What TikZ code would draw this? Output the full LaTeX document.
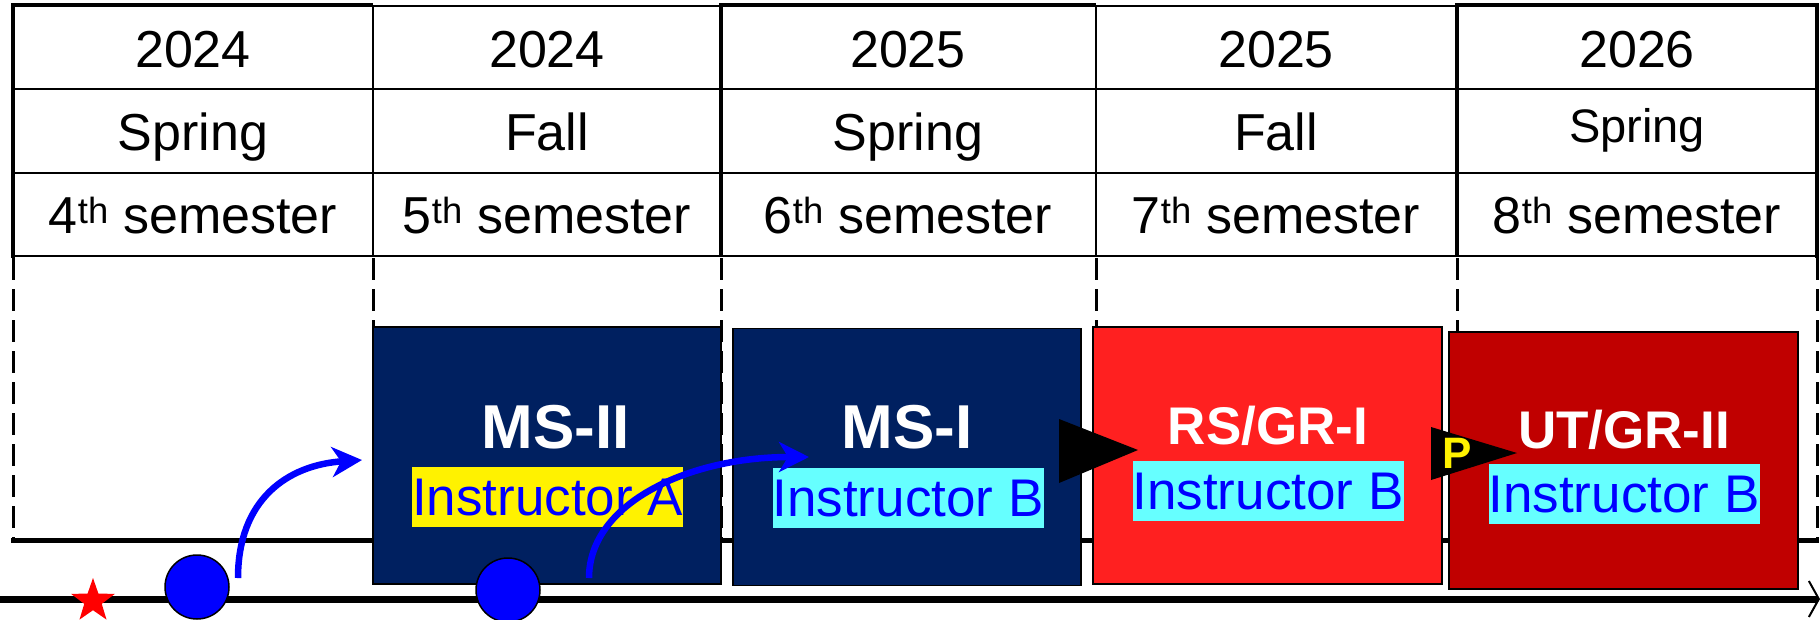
\documentclass[tikz,border=0pt]{standalone}
\usepackage{fontspec}
\setmainfont{Liberation Sans}
\usepackage{xcolor}
\usepackage{tikz}
\usetikzlibrary{arrows.meta,shapes.geometric}
\definecolor{msblue}{HTML}{002060}
\definecolor{rsred}{HTML}{FF2020}
\definecolor{utred}{HTML}{C00000}
\definecolor{hlcyan}{HTML}{66FFFF}
\begin{document}
\begin{tikzpicture}[x=1pt,y=-1pt,
    hdr/.style={anchor=base,inner sep=0pt,font=\fontsize{52}{60}\selectfont},
    course/.style={draw=black,line width=1.5pt,inner sep=0pt,minimum width=348pt,minimum height=257pt},
    ctitle/.style={anchor=base,inner sep=0pt,text=white,font=\bfseries\fontsize{62}{70}\selectfont},
    instr/.style={anchor=base,inner sep=0pt,text=blue,text height=48pt,text depth=12pt,font=\fontsize{53}{60}\selectfont},
    dot/.style={circle,draw=black,line width=1.5pt,fill=blue,minimum size=64pt,inner sep=0pt},
    flow/.style={draw=blue,line width=6.5pt,-{Stealth[length=30pt,width=30pt,inset=9pt]}},
    thin/.style={line width=2.5pt},
    thick/.style={line width=4.5pt},
    dashline/.style={line width=3pt,dash pattern=on 22pt off 9pt}]
            \fill[white] (0,0) rectangle (1820,619);
            \useasboundingbox (0,0) rectangle (1820,619);

            \draw[thin] (13,89) -- (1818,89);
            \draw[thin] (13,173) -- (1818,173);
            \draw[thin] (13,256) -- (1818,256);
            \draw[thin] (373,5) -- (373,256);
            \draw[thin] (1096,5) -- (1096,256);
            \draw[line width=3.5pt] (721,5) -- (721,256);
            \draw[thick] (1457,5) -- (1457,256);
            \draw[thick] (13,3) -- (13,258);
            \draw[thick] (1817,3) -- (1817,258);
            \draw[thin] (373,6) -- (721,6);
            \draw[thin] (1096,6) -- (1457,6);
            \draw[thick] (11,5) -- (373,5);
            \draw[thick] (719,5) -- (1096,5);
            \draw[thick] (1455,5) -- (1819,5);

            \node[hdr] (y1) at (193,67) {2024};
            \node[hdr] (y2) at (547,67) {2024};
            \node[hdr] (y3) at (908,67) {2025};
            \node[hdr] (y4) at (1276,67) {2025};
            \node[hdr] (y5) at (1637,67) {2026};
            \node[hdr] (s1) at (193,150) {Spring};
            \node[hdr] (s2) at (547,150) {Fall};
            \node[hdr] (s3) at (908,150) {Spring};
            \node[hdr] (s4) at (1276,150) {Fall};
            \node[hdr,font=\fontsize{47}{54}\selectfont] (s5) at (1637,142) {Spring};
            \node[hdr] (n1) at (193,233) {4\textsuperscript{th} semester};
            \node[hdr] (n2) at (547,233) {5\textsuperscript{th} semester};
            \node[hdr] (n3) at (908,233) {6\textsuperscript{th} semester};
            \node[hdr] (n4) at (1276,233) {7\textsuperscript{th} semester};
            \node[hdr] (n5) at (1637,233) {8\textsuperscript{th} semester};

            \draw[dashline] (13,258) -- (13,540);
            \draw[dashline] (373,258) -- (373,540);
            \draw[dashline] (721,258) -- (721,540);
            \draw[dashline] (1096,258) -- (1096,540);
            \draw[dashline] (1457,258) -- (1457,540);
            \draw[dashline] (1817,258) -- (1817,540);
            \draw[line width=5pt] (11,540) -- (1819,540);

            \coordinate (t0) at (0,599);
            \coordinate (t1) at (1820,599);
            \draw[line width=7pt,-{Straight Barb[length=10pt,width=36pt,line width=2pt]}] (t0) -- (t1);

            \node[course,fill=msblue] (ms2) at (547,455.5) {};
            \node[course,fill=msblue] (ms1) at (907,457) {};
            \node[course,fill=rsred,minimum width=349pt] (rs) at (1267.5,455.5) {};
            \node[course,fill=utred,minimum width=349pt] (ut) at (1623.5,460.5) {};

            \node[ctitle] (ms2t) at (556,448) {MS-II};
            \node[ctitle] (ms1t) at (907,448) {MS-I};
            \node[ctitle,font=\bfseries\fontsize{53}{60}\selectfont] (rst) at (1268,444) {RS/GR-I};
            \node[ctitle,font=\bfseries\fontsize{53}{60}\selectfont] (utt) at (1624,448) {UT/GR-II};

            \node[instr,fill=yellow] (ms2i) at (547.5,515) {Instructor A};
            \node[instr,fill=hlcyan] (ms1i) at (908,516) {Instructor B};
            \node[instr,fill=hlcyan] (rsi) at (1268,509) {Instructor B};
            \node[instr,fill=hlcyan] (uti) at (1624,512) {Instructor B};

            \fill[black] (1059,419) -- (1059,483) -- (1138,450) -- cycle;
            \fill[black] (1431,427) -- (1431,480) -- (1517,453) -- cycle;
            \node[inner sep=0pt,text=yellow,font=\bfseries\fontsize{44}{50}\selectfont] (p) at (1457,453) {P};

            \node[star,star points=5,star point ratio=2.5,fill=red,minimum size=46pt,inner sep=0pt] (st) at (93,601) {};
            \node[dot] (c1) at (197,587) {};
            \node[dot] (c2) at (508,590) {};

            \coordinate (f1a) at (238,578);
            \coordinate (f1b) at (362,460);
            \coordinate (f2a) at (589,578);
            \coordinate (f2b) at (809,457);
            \draw[flow] (f1a) .. controls +(0,-78) and +(-75,5) .. (f1b);
            \draw[flow] (f2a) .. controls +(0,-75) and +(-120,0) .. (f2b);
\end{tikzpicture}
\end{document}
